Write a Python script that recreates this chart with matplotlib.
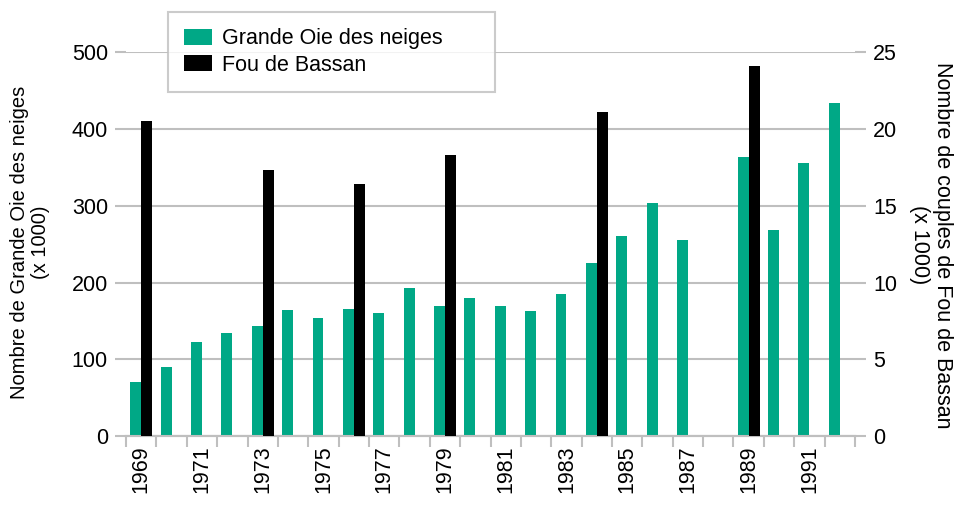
import matplotlib
matplotlib.use('Agg')
import matplotlib.pyplot as plt
import numpy as np

plt.rcParams['font.family'] = ['Liberation Sans', 'DejaVu Sans']

# donnees
annees = list(range(1969, 1993))
oies = [70, 90, 123, 134, 143, 164, 154, 165, 160, 193, 170, 180,
        170, 163, 185, 226, 260, 304, 256, np.nan, 364, 269, 356, 434]
annees_fou = [1969, 1973, 1976, 1979, 1984, 1989]
fous = [20.5, 17.3, 16.4, 18.3, 21.1, 24.1]

vert = '#00a886'
gris = '#bfbfbf'
fs = 15.5

fig = plt.figure(figsize=(9.57, 5.05), dpi=100)
ax = fig.add_axes([0.1317, 0.1366, 0.7617, 0.7598])
ax2 = ax.twinx()

x = np.arange(len(annees))
w = 0.36
ax.bar(x - w/2, oies, w, color=vert, label='Grande Oie des neiges', zorder=3)
xf = [annees.index(a) for a in annees_fou]
ax2.bar(np.array(xf) + w/2, fous, w, color='black', label='Fou de Bassan', zorder=3)

ax.set_xlim(-0.5, len(annees) - 0.5)
ax.set_ylim(0, 500)
ax2.set_ylim(0, 25)
ax.set_yticks(range(0, 501, 100))
ax2.set_yticks(range(0, 26, 5))
ax.yaxis.grid(True, color=gris, linewidth=1.5, zorder=0)
ax.set_axisbelow(True)

ax.set_xticks(x[::2])
ax.set_xticklabels([str(a) for a in annees[::2]], rotation=90, fontsize=fs)
ax.set_xticks(np.arange(-0.5, len(annees), 1), minor=True)
ax.tick_params(axis='x', which='major', length=0, pad=7)
ax.tick_params(axis='x', which='minor', length=8, width=1.5, color=gris)
ax.tick_params(axis='y', length=8, width=1.5, color=gris, labelsize=fs, pad=5)
ax2.tick_params(axis='y', length=8, width=1.5, color=gris, labelsize=fs, pad=5)

for a in (ax, ax2):
    for s in ('left', 'right', 'top'):
        a.spines[s].set_visible(False)
    a.spines['bottom'].set_color(gris)
    a.spines['bottom'].set_linewidth(1.5)

fig.text(0.031, 0.52, 'Nombre de Grande Oie des neiges\n(x 1000)', rotation=90,
         ha='center', va='center', fontsize=14.5, linespacing=1.15)
fig.text(0.973, 0.515, 'Nombre de couples de Fou de Bassan\n(x 1000)', rotation=270,
         ha='center', va='center', fontsize=fs, linespacing=1.15)

h1, l1 = ax.get_legend_handles_labels()
h2, l2 = ax2.get_legend_handles_labels()
leg = fig.legend(h1 + h2, l1 + l2, loc='upper left',
                 bbox_to_anchor=(168 / 957, 0.976, 327 / 957, 0), mode='expand',
                 fontsize=fs, frameon=True, fancybox=False, edgecolor=gris,
                 handlelength=1.3, handleheight=0.8, handletextpad=0.45,
                 borderpad=0.75, labelspacing=0.25, borderaxespad=0)
leg.get_frame().set_linewidth(1.5)
leg.set_zorder(5)

fig.savefig('out.png', dpi=100)
